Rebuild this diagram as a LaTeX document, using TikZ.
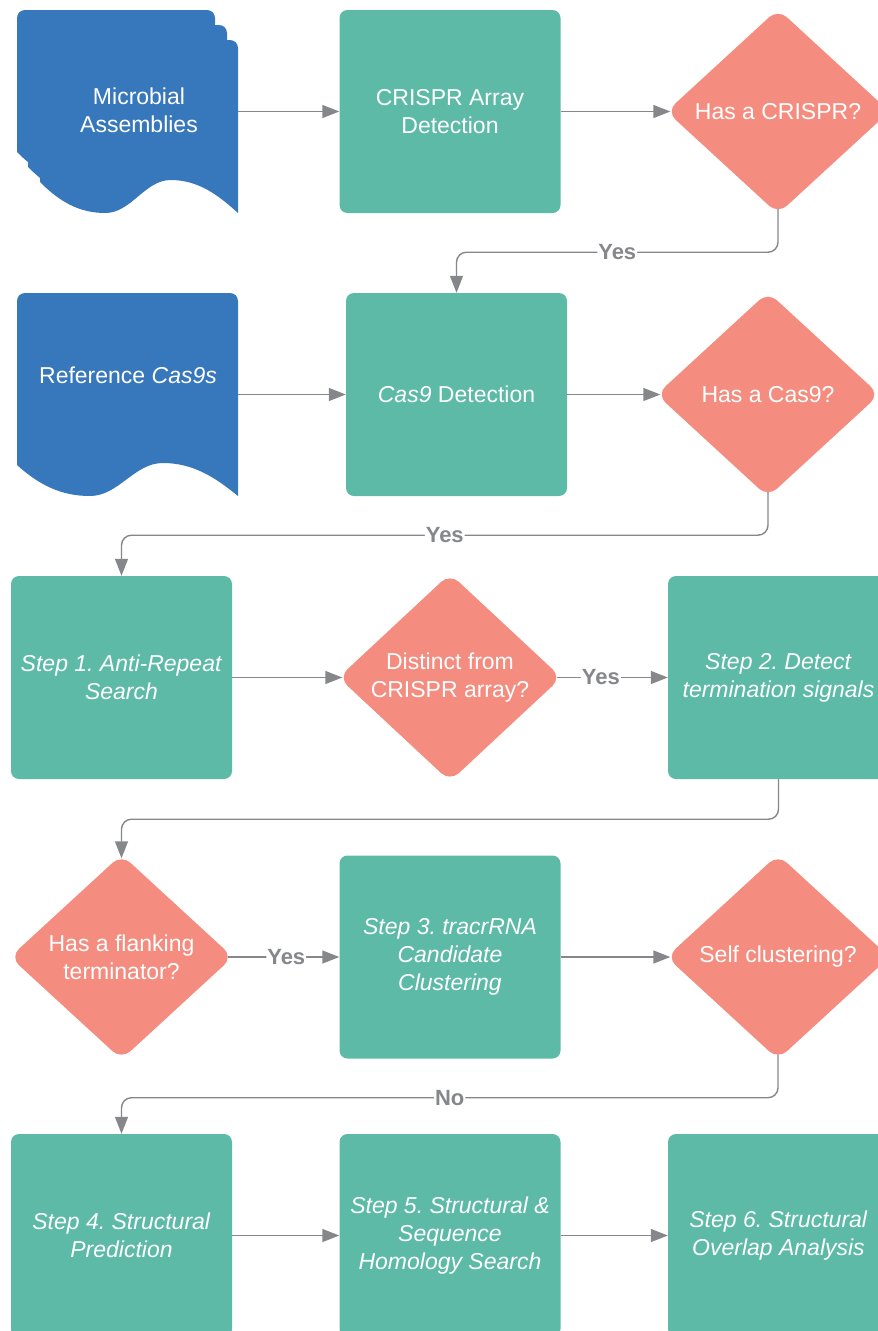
\documentclass[tikz,border=0pt]{standalone}
\usepackage{fontspec}
\setmainfont{Liberation Sans}
\usetikzlibrary{shapes.geometric,arrows.meta}
\frenchspacing

\definecolor{docblue}{HTML}{3777BC}
\definecolor{stepteal}{HTML}{5CBAA7}
\definecolor{asksalmon}{HTML}{F48C7F}
\definecolor{linkgray}{HTML}{86878B}

% document page: x, top, width, height (to the right bottom corner)
\newcommand{\docpage}[4]{%
  \fill[docblue] (#1,#2+#4-31) [rounded corners=8pt] -- (#1,#2) -- (#1+#3,#2) [sharp corners] -- (#1+#3,#2+#4)
    .. controls (#1+0.9*#3,#2+#4-18) and (#1+0.8*#3,#2+#4-33) .. (#1+0.66*#3,#2+#4-33)
    .. controls (#1+0.53*#3,#2+#4-33) and (#1+0.46*#3,#2+#4) .. (#1+0.33*#3,#2+#4)
    .. controls (#1+0.2*#3,#2+#4) and (#1+0.1*#3,#2+#4-11) .. (#1,#2+#4-31) -- cycle;}

\begin{document}
\begin{tikzpicture}[x=1pt, y=-1pt,
  stepbox/.style={fill=stepteal, rounded corners=8pt, minimum width=221pt, minimum height=203pt,
    inner sep=2pt, text=white, align=center, font=\fontsize{23}{28}\selectfont},
  askbox/.style={diamond, aspect=1, fill=asksalmon, rounded corners=12pt, minimum width=223pt,
    minimum height=205pt, inner sep=0pt, text=white, align=center, font=\fontsize{23}{28}\selectfont},
  doctext/.style={text=white, align=center, font=\fontsize{23}{28}\selectfont},
  link/.style={draw=linkgray, line width=1.4pt, rounded corners=10pt, -{Triangle[length=17pt,width=13pt]}},
  fromask/.style={shorten <=-5pt},
  toask/.style={shorten >=-4pt},
  tag/.style={fill=white, inner sep=1pt, text=linkgray, font=\fontsize{22}{26}\selectfont\bfseries}]

  %% ════ documents ════
  \docpage{17}{10}{198}{173}
  \docpage{28}{25}{199}{173}
  \docpage{40}{40}{198}{173}
  \docpage{17}{293}{221}{203}
  \node[doctext] (asmtext) at (139,110) {Microbial\\Assemblies};
  \node[doctext] (reftext) at (128,375) {Reference \textit{Cas9s}};
  \coordinate (asmout) at (238,111.5);
  \coordinate (refout) at (238,394.5);

  %% ════ steps ════
  \node[stepbox] (crisprdet) at (450,111.5) {CRISPR Array\\Detection};
  \node[stepbox] (cas9det) at (456.5,394.5) {\textit{Cas9} Detection};
  \node[stepbox] (step1) at (121.5,677.5) {\textit{Step 1. Anti-Repeat}\\\textit{Search}};
  \node[stepbox] (step2) at (778.5,677.5) {\textit{Step 2. Detect}\\\textit{termination signals}};
  \node[stepbox] (step3) at (450,957) {\textit{Step 3. tracrRNA}\\\textit{Candidate}\\\textit{Clustering}};
  \node[stepbox] (step4) at (121.5,1235.5) {\textit{Step 4. Structural}\\\textit{Prediction}};
  \node[stepbox] (step5) at (450,1235.5) {\textit{Step 5. Structural \&}\\\textit{Sequence}\\\textit{Homology Search}};
  \node[stepbox] (step6) at (778.5,1235.5) {\textit{Step 6. Structural}\\\textit{Overlap Analysis}};

  %% ════ decisions ════
  \node[askbox] (hascrispr) at (778,111.5) {Has a CRISPR?};
  \node[askbox] (hascas9) at (768,394.5) {Has a Cas9?};
  \node[askbox] (distinct) at (450,677.5) {Distinct from\\CRISPR array?};
  \node[askbox] (flanking) at (121.5,957) {Has a flanking\\terminator?};
  \node[askbox] (selfclust) at (778,957) {Self clustering?};

  %% ════ connectors ════
  \draw[link] (asmout) -- (crisprdet);
  \draw[link, toask] (crisprdet) -- (hascrispr);
  \draw[link, fromask] (hascrispr.south) -- ++(0,38) -| node[tag, pos=0.25] {Yes} (cas9det.north);
  \draw[link] (refout) -- (cas9det);
  \draw[link, toask] (cas9det) -- (hascas9);
  \draw[link, fromask] (hascas9.south) -- ++(0,38) -| node[tag, pos=0.25] {Yes} (step1.north);
  \draw[link, toask] (step1) -- (distinct);
  \draw[link, fromask] (distinct) -- node[tag, pos=0.37] {Yes} (step2);
  \draw[link, toask] (step2.south) -- ++(0,40) -| (flanking.north);
  \draw[link, fromask] (flanking) -- node[tag] {Yes} (step3);
  \draw[link, toask] (step3) -- (selfclust);
  \draw[link, fromask] (selfclust.south) -- ++(0,38) -| node[tag, pos=0.25] {No} (step4.north);
  \draw[link] (step4) -- (step5);
  \draw[link] (step5) -- (step6);

  \pgfresetboundingbox
  \path[use as bounding box] (0,0) rectangle (878,1331);
\end{tikzpicture}
\end{document}
